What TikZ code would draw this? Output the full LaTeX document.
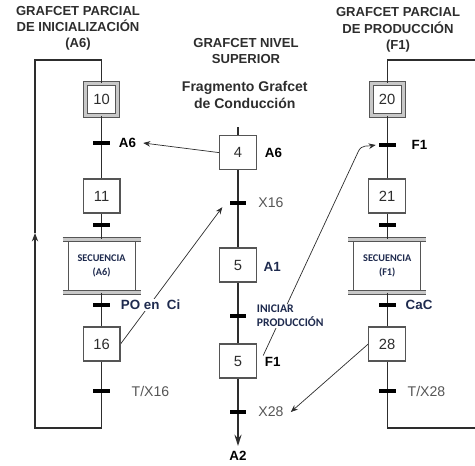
\documentclass[tikz,border=0pt]{standalone}
\usepackage{fontspec}
\setmainfont{Liberation Sans}
\newfontfamily\calfont{Carlito}
\usepackage{tikz}
\usetikzlibrary{arrows.meta, calc, backgrounds}
\definecolor{GFInk}{RGB}{45,45,45}
\definecolor{GFGray}{RGB}{85,85,85}
\definecolor{GFLight}{RGB}{200,200,200}
\definecolor{GFNavy}{RGB}{30,42,78}

\begin{document}
\begin{tikzpicture}[
          stp/.style={rectangle, draw=GFGray, line width=0.8pt, fill=white,
                      minimum width=0.92cm, minimum height=0.85cm, inner sep=0pt,
                      font=\fontsize{10.5}{12}\selectfont, text=GFInk},
          istp/.style={rectangle, draw=GFGray, double=GFLight, double distance=2pt,
                       line width=0.7pt, fill=white, minimum size=0.8cm, inner sep=0pt,
                       font=\fontsize{10.5}{12}\selectfont, text=GFInk},
          tr/.style={rectangle, fill=black, minimum width=0.42cm,
                     minimum height=0.1cm, inner sep=0pt},
          mac/.style={rectangle, draw=GFGray, line width=0.8pt, fill=white,
                      minimum width=1.675cm, minimum height=1.3cm, align=center,
                      font=\calfont\bfseries\fontsize{7.3}{10.5}\selectfont, text=GFNavy},
          bar/.style={draw=GFGray, double=GFLight, double distance=1.8pt, line width=0.7pt},
          flow/.style={GFInk, line width=0.9pt},
          conn/.style={GFInk, line width=0.5pt, -{Stealth[length=5pt,width=4pt]}},
          rcp/.style={font=\bfseries\fontsize{9.5}{11}\selectfont, text=black,
                      anchor=west, inner sep=1pt},
          grc/.style={font=\fontsize{10}{12}\selectfont, text=GFGray,
                      anchor=west, inner sep=1pt},
          ttl/.style={font=\bfseries\fontsize{9.3}{11.5}\selectfont, text=GFInk, align=center}
        ]
        \useasboundingbox (0,0) rectangle (11.875,11.625);

        % Titles
        \node[ttl] (tA) at (1.95, 10.92) {GRAFCET PARCIAL\\DE INICIALIZACIÓN\\(A6)};
        \node[ttl] (tN) at (6.15, 10.35) {GRAFCET NIVEL\\SUPERIOR};
        \node[ttl, font=\bfseries\fontsize{10}{11.5}\selectfont] (tC) at (6.12, 9.25)
             {Fragmento Grafcet\\de Conducción};
        \node[ttl] (tF) at (9.95, 10.88) {GRAFCET PARCIAL\\DE PRODUCCIÓN\\(F1)};

        % Grafcet A6
        \node[istp] (s10) at (2.54, 9.14) {10};
        \node[tr] (tA6) at (2.54, 8.05) {};
        \node[rcp] (lA6) at (2.93, 8.05) {A6};
        \node[stp] (s11) at (2.54, 6.725) {11};
        \node[tr] (t11) at (2.54, 6.0) {};
        \node[mac] (m1) at (2.54, 4.975) {SECUENCIA\\(A6)};
        \draw[bar] ([xshift=-0.125cm]m1.north west) -- ([xshift=0.125cm]m1.north east);
        \draw[bar] ([xshift=-0.125cm]m1.south west) -- ([xshift=0.125cm]m1.south east);
        \node[tr] (tPO) at (2.54, 4.0) {};
        \node[rcp, text=GFNavy, fill=white] (lPO) at (2.98, 4.0) {PO en~~Ci};
        \node[stp] (s16) at (2.54, 3.025) {16};
        \node[tr] (tT16) at (2.54, 1.85) {};
        \node[grc] (lT16) at (3.25, 1.85) {T/X16};
        \coordinate (aB) at (2.54, 0.925);
        \coordinate (aL) at (0.875, 0.925);
        \coordinate (aM) at (0.875, 5.8);
        \coordinate (aT) at (0.875, 10.125);
        \coordinate (aR) at (2.54, 10.125);
        \draw[flow] (s10) -- (tA6) -- (s11) -- (t11) -- (m1) -- (tPO) -- (s16) -- (tT16);
        \draw[flow, -{Stealth[length=6pt,width=4.5pt]}] (tT16) -- (aB) -- (aL) -- (aM);
        \draw[flow] (aM) -- (aT) -- (aR) -- (s10);

        % Conduccion
        \coordinate (c0) at (5.95, 8.45);
        \node[stp] (s4) at (5.95, 7.81) {4};
        \node[rcp] (l4) at (6.58, 7.81) {A6};
        \node[tr] (tX16) at (5.95, 6.55) {};
        \node[grc] (lX16) at (6.42, 6.55) {X16};
        \node[stp] (s5) at (5.95, 5.0) {5};
        \node[rcp, text=GFNavy] (l5) at (6.55, 4.95) {A1};
        \node[tr] (tIP) at (5.95, 3.725) {};
        \node[rcp, fill=white, text=GFNavy, align=left,
              font=\calfont\bfseries\fontsize{8.3}{10}\selectfont] (lIP) at (6.38, 3.725)
             {INICIAR\\PRODUCCIÓN};
        \node[stp] (s5b) at (5.95, 2.6) {5};
        \node[rcp] (l5b) at (6.58, 2.58) {F1};
        \node[tr] (tX28) at (5.95, 1.325) {};
        \node[grc] (lX28) at (6.42, 1.325) {X28};
        \coordinate (c1) at (5.95, 0.475);
        \node[rcp, anchor=center] (lA2) at (5.95, 0.22) {A2};
        \draw[flow] (c0) -- (s4) -- (tX16) -- (s5) -- (tIP) -- (s5b) -- (tX28);
        \draw[flow, line width=1.6pt, -{Stealth[length=8pt,width=5pt]}] (tX28) -- (c1);

        % Grafcet F1
        \coordinate (bT) at (11.875, 10.125);
        \coordinate (bR) at (9.68, 10.125);
        \node[istp] (s20) at (9.68, 9.14) {20};
        \node[tr] (tF1) at (9.68, 8.0) {};
        \node[rcp] (lF1) at (10.25, 8.0) {F1};
        \node[stp] (s21) at (9.68, 6.725) {21};
        \node[tr] (t21) at (9.68, 6.0) {};
        \node[mac] (m2) at (9.68, 4.975) {SECUENCIA\\(F1)};
        \draw[bar] ([xshift=-0.125cm]m2.north west) -- ([xshift=0.125cm]m2.north east);
        \draw[bar] ([xshift=-0.125cm]m2.south west) -- ([xshift=0.125cm]m2.south east);
        \node[tr] (tCaC) at (9.68, 4.0) {};
        \node[rcp, text=GFNavy] (lCaC) at (10.1, 4.0) {CaC};
        \node[stp] (s28) at (9.68, 3.025) {28};
        \node[tr] (tT28) at (9.68, 1.85) {};
        \node[grc] (lT28) at (10.15, 1.85) {T/X28};
        \coordinate (bB) at (9.68, 0.925);
        \coordinate (bE) at (11.875, 0.925);
        \draw[flow] (bT) -- (bR) -- (s20) -- (tF1) -- (s21) -- (t21) -- (m2)
              -- (tCaC) -- (s28) -- (tT28) -- (bB) -- (bE);

        % Links between levels
        \begin{scope}[on background layer]
          \draw[conn] (s4.west) -- ([xshift=4pt]lA6.east);
          \draw[conn] (s16.east) -- ([xshift=-5pt,yshift=-3pt]tX16.west);
          \draw[conn] (l5b.north west) -- ($(tF1.west)+(-0.5,-0.15)$)
                to[out=65, in=190] ([xshift=-2pt]tF1.west);
          \draw[conn] (s28.west) -- ([xshift=4pt]lX28.east);
        \end{scope}
      \end{tikzpicture}
\end{document}
